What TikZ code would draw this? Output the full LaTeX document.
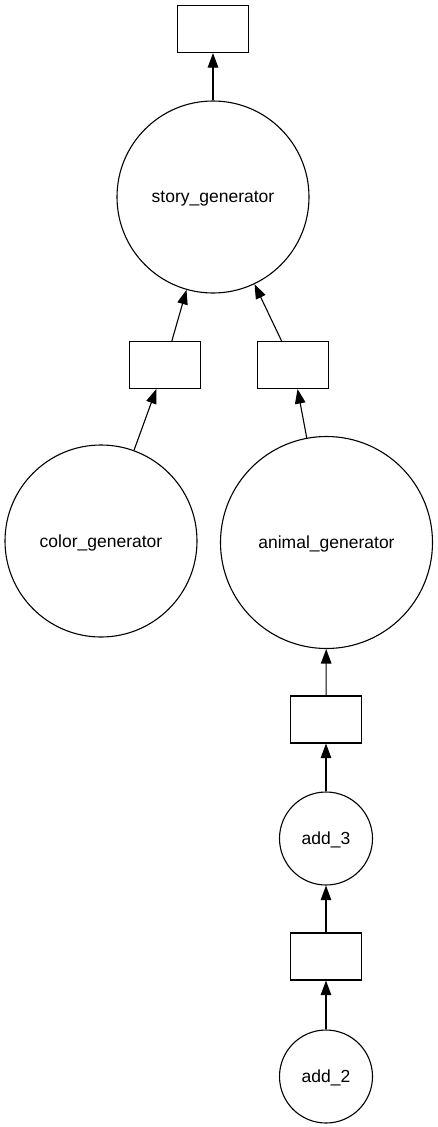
\documentclass[tikz,border=0pt]{standalone}
\usepackage{fontspec}
\setmainfont{Liberation Sans}
\usetikzlibrary{arrows.meta}

\tikzset{
    task/.style={circle, draw, line width=1.1pt, inner sep=0pt, text depth=0pt, font=\fontsize{17.5}{20}\selectfont},
    data/.style={rectangle, draw, line width=1.1pt, minimum width=71pt, minimum height=47pt, inner sep=0pt},
    flow/.style={line width=1.1pt, -{Triangle[length=14.5pt,width=10.5pt]}}
}

\begin{document}
\begin{tikzpicture}[x=1pt,y=-1pt]
        \useasboundingbox (0,0) rectangle (437,1127);

        % Tasks
        \node[task, minimum size=192pt] (story) at (213,197) {story\_generator};
        \node[task, minimum size=192pt] (color) at (101,541) {color\_generator};
        \node[task, minimum size=212pt] (animal) at (326.5,542.5) {animal\_generator};
        \node[task, minimum size=93pt] (add3) at (326,838.5) {add\_3};
        \node[task, minimum size=93pt] (add2) at (326,1076.5) {add\_2};

        % Data
        \node[data] (out) at (213,29) {};
        \node[data] (colorout) at (165,365) {};
        \node[data] (animalout) at (293,365) {};
        \node[data] (add3out) at (326,719.5) {};
        \node[data] (add2out) at (326,956.5) {};

        % Edges
        \draw[flow] (story) -- (out);
        \draw[flow] (colorout) -- (story);
        \draw[flow] (animalout) -- (story);
        \draw[flow] (color) -- (colorout);
        \draw[flow] (animal) -- (animalout);
        \draw[flow] (add3out) -- (animal);
        \draw[flow] (add3) -- (add3out);
        \draw[flow] (add2out) -- (add3);
        \draw[flow] (add2) -- (add2out);

    \end{tikzpicture}
\end{document}
